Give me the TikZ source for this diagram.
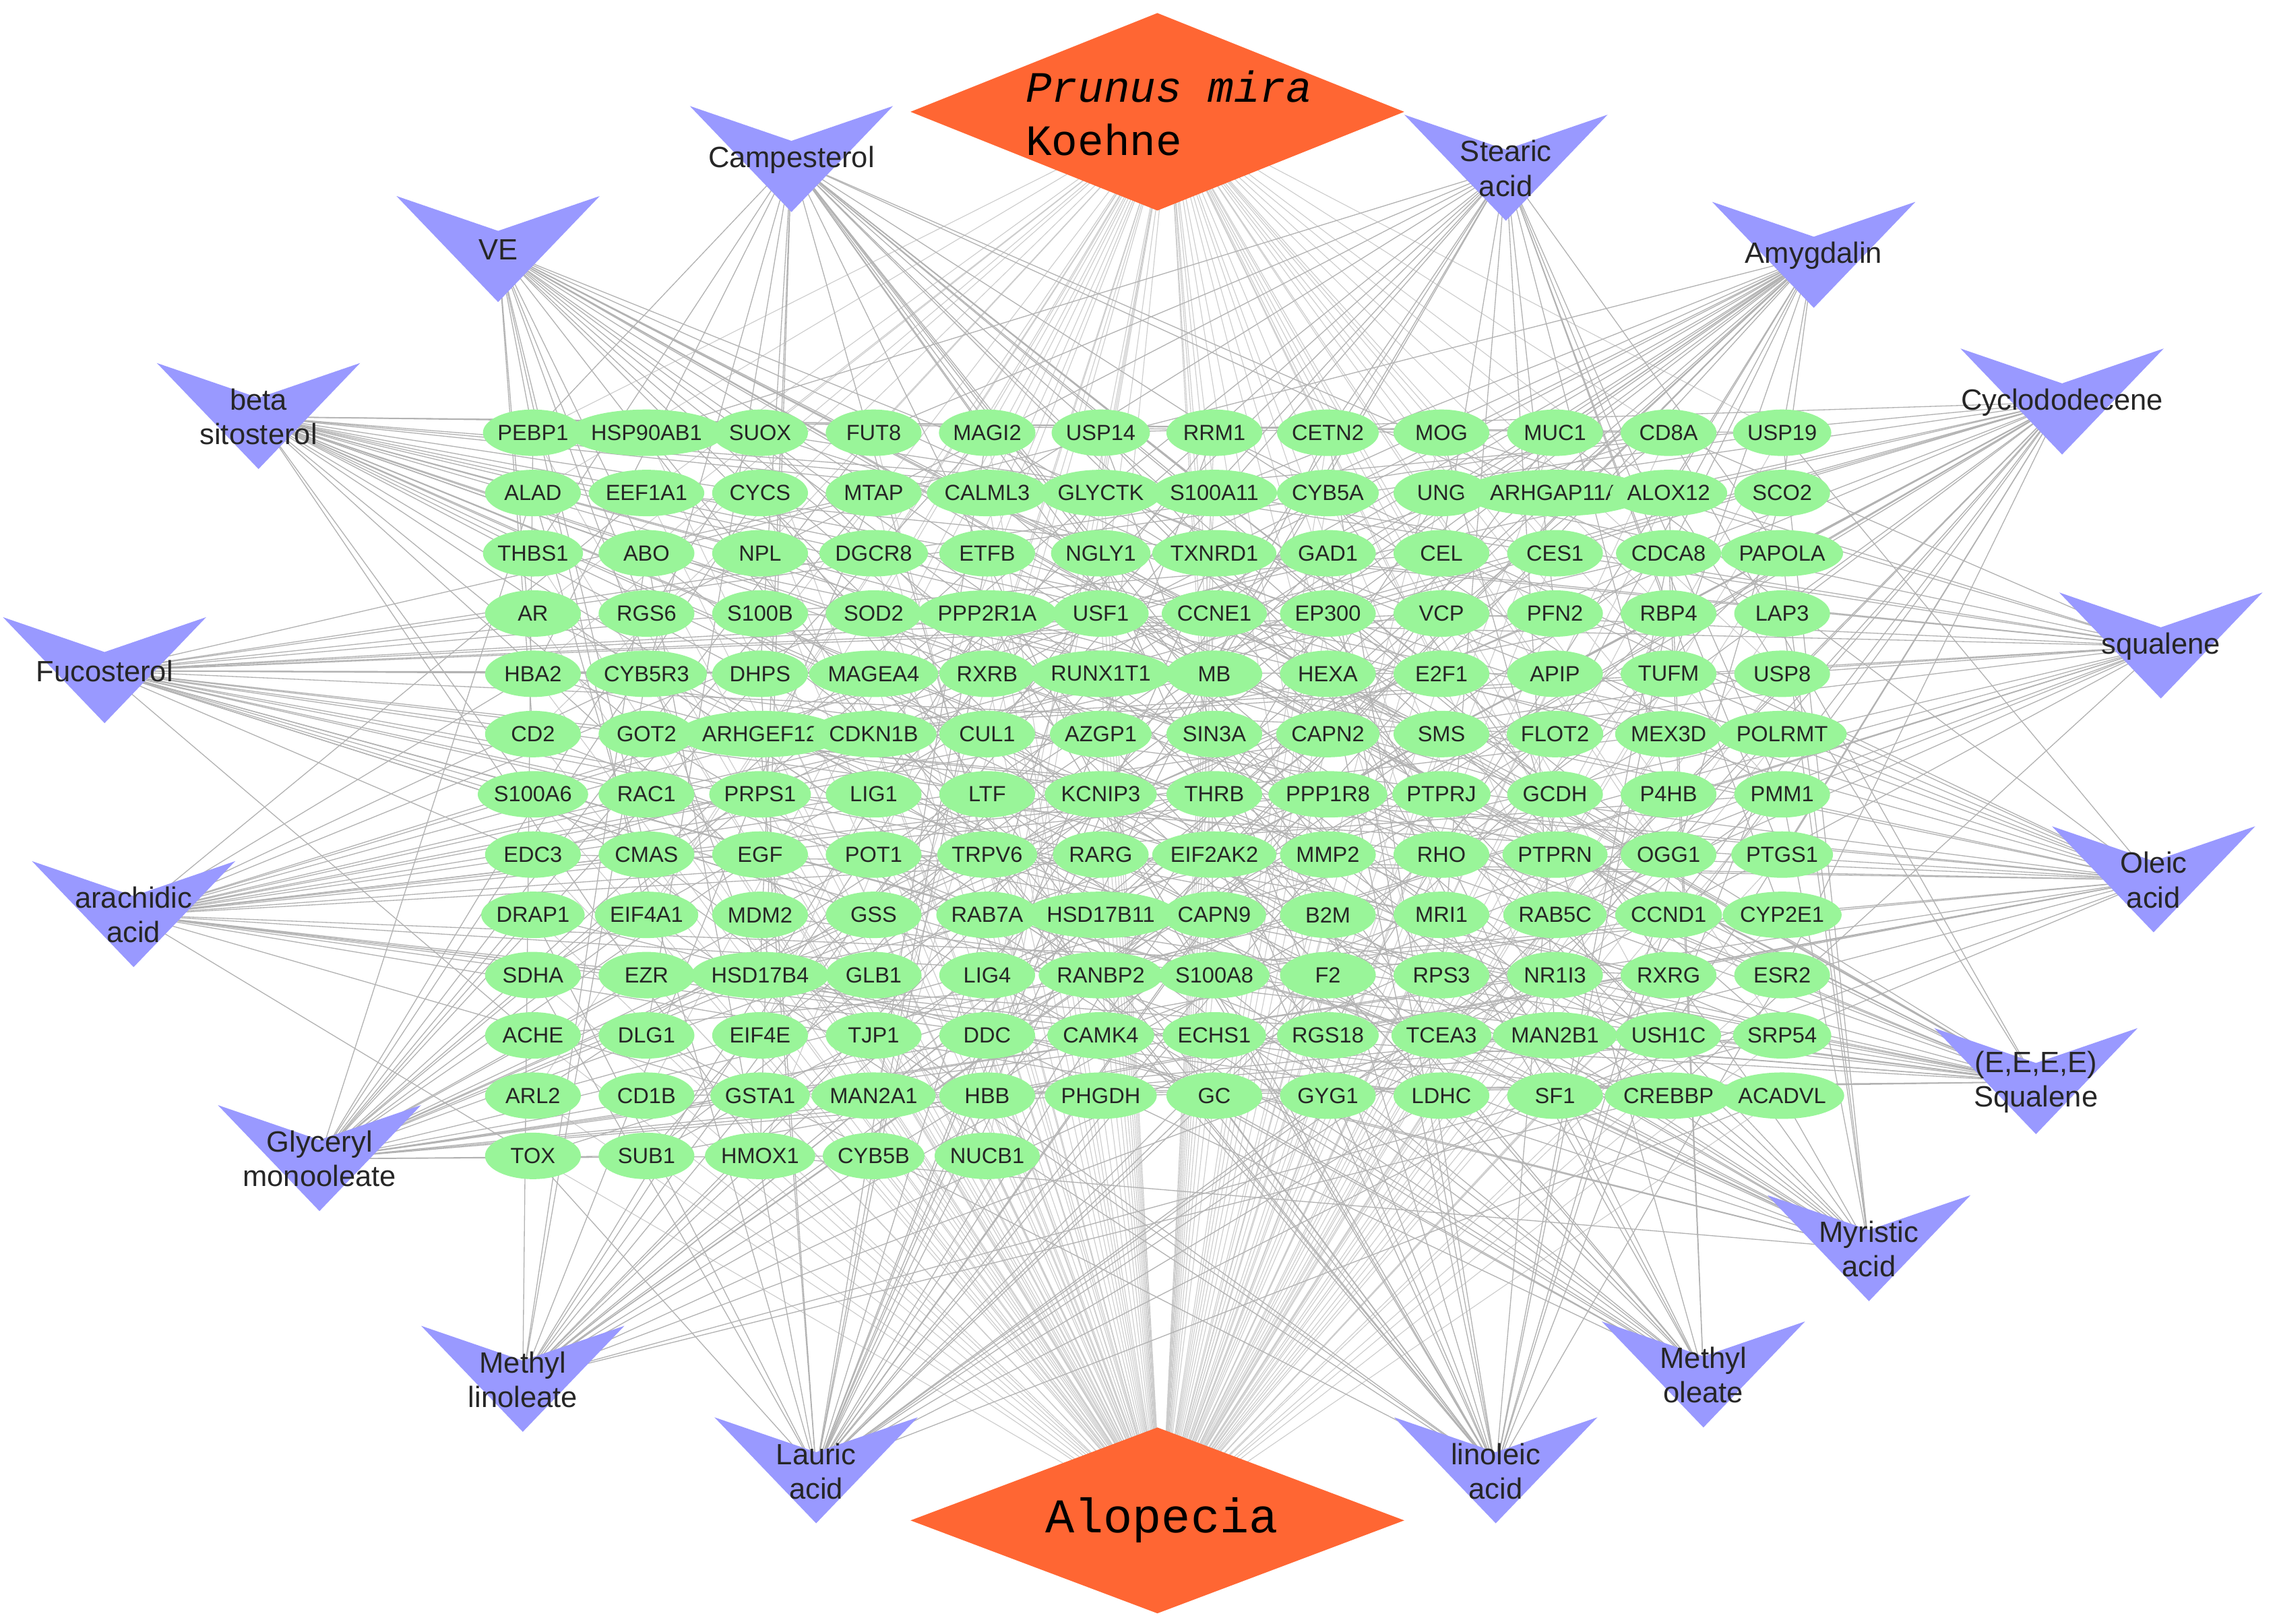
\documentclass[tikz,border=0pt]{standalone}
\usepackage{fontspec}
\setmainfont{Liberation Sans}
\newfontfamily\monof{Liberation Mono}
\usetikzlibrary{backgrounds,shapes.geometric}
\definecolor{gfill}{HTML}{99F599}
\definecolor{cfill}{HTML}{9999FF}
\definecolor{dfill}{HTML}{FF6633}
\begin{document}
\begin{tikzpicture}[x=0.02cm,y=-0.02cm,
 gene/.style={ellipse,fill=gfill,minimum width=1.32cm,minimum height=0.64cm,inner sep=0pt,font=\fontsize{8.6}{10}\selectfont,text=black!85},
 clab/.style={align=center,font=\fontsize{11.5}{13.5}\selectfont,text=black!85},
 edge/.style={draw=black!30,line width=0.35pt},
 dedge/.style={draw=black!20,line width=0.3pt}]
\useasboundingbox (0,0) rectangle (1568,1118);
% genes
\foreach \n [count=\i from 0] in {PEBP1,HSP90AB1,SUOX,FUT8,MAGI2,USP14,RRM1,CETN2,MOG,MUC1,CD8A,USP19,
ALAD,EEF1A1,CYCS,MTAP,CALML3,GLYCTK,S100A11,CYB5A,UNG,ARHGAP11A,ALOX12,SCO2,
THBS1,ABO,NPL,DGCR8,ETFB,NGLY1,TXNRD1,GAD1,CEL,CES1,CDCA8,PAPOLA,
AR,RGS6,S100B,SOD2,PPP2R1A,USF1,CCNE1,EP300,VCP,PFN2,RBP4,LAP3,
HBA2,CYB5R3,DHPS,MAGEA4,RXRB,RUNX1T1,MB,HEXA,E2F1,APIP,TUFM,USP8,
CD2,GOT2,ARHGEF12,CDKN1B,CUL1,AZGP1,SIN3A,CAPN2,SMS,FLOT2,MEX3D,POLRMT,
S100A6,RAC1,PRPS1,LIG1,LTF,KCNIP3,THRB,PPP1R8,PTPRJ,GCDH,P4HB,PMM1,
EDC3,CMAS,EGF,POT1,TRPV6,RARG,EIF2AK2,MMP2,RHO,PTPRN,OGG1,PTGS1,
DRAP1,EIF4A1,MDM2,GSS,RAB7A,HSD17B11,CAPN9,B2M,MRI1,RAB5C,CCND1,CYP2E1,
SDHA,EZR,HSD17B4,GLB1,LIG4,RANBP2,S100A8,F2,RPS3,NR1I3,RXRG,ESR2,
ACHE,DLG1,EIF4E,TJP1,DDC,CAMK4,ECHS1,RGS18,TCEA3,MAN2B1,USH1C,SRP54,
ARL2,CD1B,GSTA1,MAN2A1,HBB,PHGDH,GC,GYG1,LDHC,SF1,CREBBP,ACADVL,
TOX,SUB1,HMOX1,CYB5B,NUCB1}{
 \pgfmathtruncatemacro\r{div(\i,12)}
 \pgfmathtruncatemacro\c{mod(\i,12)}
 \node[gene] (g\i) at ({367+78.2*\c},{298+41.5*\r}) {\n};
}
% compounds
\foreach \x/\y/\l [count=\k] in {545/110/Campesterol,343/172/VE,178/287/beta\\sitosterol,72/462/Fucosterol,92/630/arachidic\\acid,220/798/Glyceryl\\monooleate,360/950/Methyl\\linoleate,562/1013/Lauric\\acid,1030/1013/linoleic\\acid,1173/947/Methyl\\oleate,1287/860/Myristic\\acid,1402/745/{(E,E,E,E)}\\Squalene,1483/606/Oleic\\acid,1488/445/squalene,1420/277/Cyclododecene,1249/176/Amygdalin,1037/116/Stearic\\acid}{
 \fill[cfill] (\x-70,\y-37) -- (\x,\y-13) -- (\x+70,\y-37) -- (\x,\y+36) -- cycle;
 \node[clab] (c\k) at (\x,\y) {\l};
}
% diamonds
\fill[dfill] (627,77) -- (797,9) -- (967,77) -- (797,145) -- cycle;
\node[align=left,font=\monof\fontsize{17}{21}\selectfont] (top) at (805,78) {{\itshape Prunus mira}\\Koehne};
\fill[dfill] (627,1047) -- (797,983) -- (967,1047) -- (797,1111) -- cycle;
\node[font=\monof\fontsize{19}{20}\selectfont] (bot) at (800,1047) {Alopecia};
% edges
\begin{pgfonlayer}{background}
\pgfmathsetseed{4242}
\foreach \g in {0,...,148}{
 \draw[dedge] (bot.center) -- (g\g.center);
 \pgfmathsetmacro\q{rnd}
 \ifdim\q pt<0.45pt \draw[dedge] (top.center) -- (g\g.center);\fi
}
\foreach \k in {1,...,17}{
 \foreach \g in {0,...,148}{
  \pgfmathsetmacro\q{rnd}
  \ifdim\q pt<0.17pt \draw[edge] (c\k.center) -- (g\g.center);\fi
 }
}
\end{pgfonlayer}
\end{tikzpicture}
\end{document}
